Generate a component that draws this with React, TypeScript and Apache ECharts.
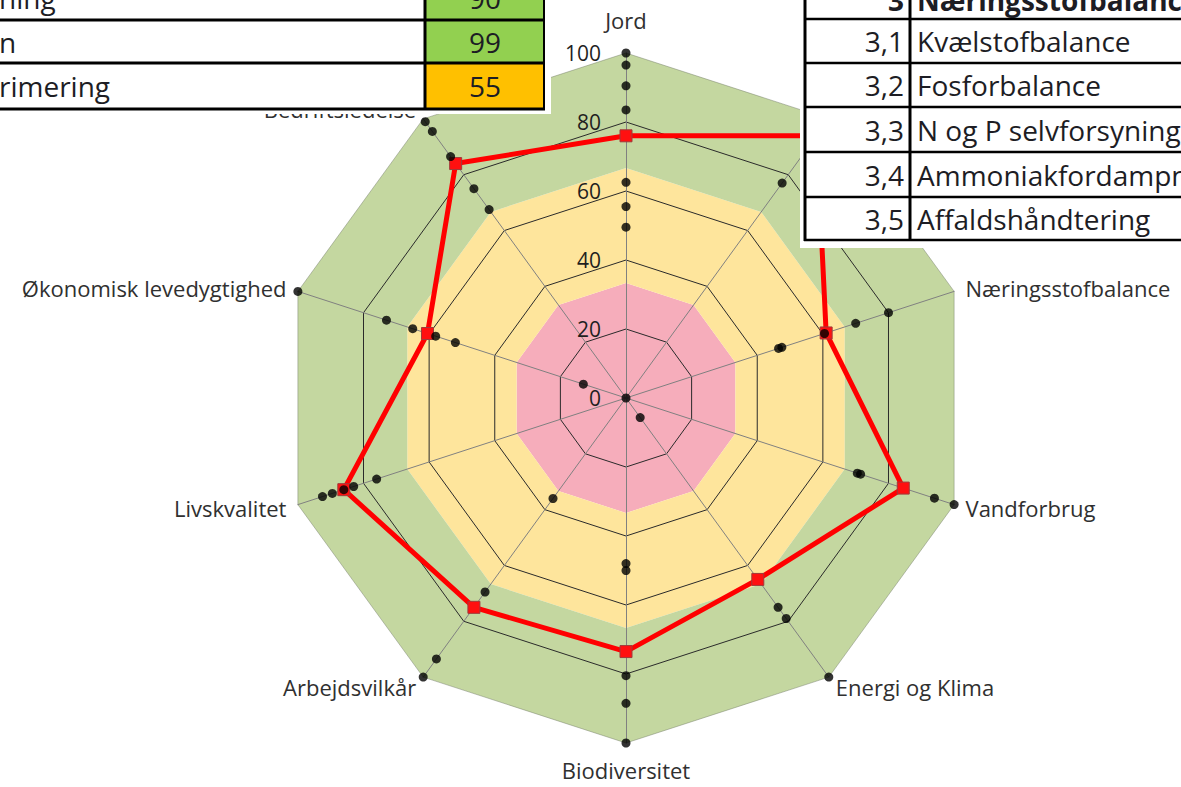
import React, { useEffect, useRef } from 'react';
import * as echarts from 'echarts';

// ---- data (clockwise from the top) ----
const indicators = [
  'Jord',
  'Dyrehold',
  'Næringsstofbalance',
  'Vandforbrug',
  'Energi og Klima',
  'Biodiversitet',
  'Arbejdsvilkår',
  'Livskvalitet',
  'Økonomisk levedygtighed',
  'Bedriftsledelse',
];
const themeScores = [76, 94, 61, 84.5, 65, 73.5, 75, 86, 60.5, 84];

const subJord = [0, 49.5, 55.5, 62.5, 83.5, 90.5, 96.5, 100];
const subDyrehold = [77];
const subNaering = [46.5, 47.5, 60.5, 70, 80];
const subVand = [70.5, 71.5, 94, 100];
const subEnergi = [7, 75, 79, 100];
const subBio = [48, 50, 80.5, 88.5, 100];
const subArbejd = [36, 69.5, 93.5, 100];
const subLivs = [76, 83, 86, 89.5, 92.5];
const subOekonomi = [13, 52, 58, 65, 73, 100];
const subLedelse = [67.5, 75, 86.5, 95.5, 99];
const subScores = [
  subJord, subDyrehold, subNaering, subVand, subEnergi,
  subBio, subArbejd, subLivs, subOekonomi, subLedelse,
];

const bandColors = ['#f6adbb', '#fee59c', '#c4d7a0'];

const leftTableLabels = ['ning', 'n', 'rimering'];
const leftTableValues = ['90', '99', '55'];
const leftTableColors = ['#92d050', '#92d050', '#ffc000'];

const rightTableHeaderNo = '3';
const rightTableHeader = 'Næringsstofbalance';
const rightTableNumbers = ['3,1', '3,2', '3,3', '3,4', '3,5'];
const rightTableNames = [
  'Kvælstofbalance',
  'Fosforbalance',
  'N og P selvforsyning',
  'Ammoniakfordampning',
  'Affaldshåndtering',
];

const FONT = "'Open Sans', 'Noto Sans', sans-serif";

function buildTables() {
  const els: any[] = [];
  const Z = 100;
  const ink = '#1d1d24';
  // left table
  els.push({ type: 'rect', z: Z, shape: { x: 0, y: 0, width: 551, height: 114 }, style: { fill: '#ffffff' } });
  const lRows = [[-24, 20], [20, 63], [63, 109]];
  lRows.forEach((r, i) => {
    els.push({ type: 'rect', z: Z, shape: { x: 425, y: r[0], width: 119, height: r[1] - r[0] }, style: { fill: leftTableColors[i] } });
    els.push({
      type: 'text', z: Z + 2, x: 485, y: (r[0] + r[1]) / 2,
      style: { text: leftTableValues[i], fill: ink, font: `28px ${FONT}`, align: 'center', verticalAlign: 'middle' },
    });
    els.push({
      type: 'text', z: Z + 2, x: -1, y: (r[0] + r[1]) / 2,
      style: { text: leftTableLabels[i], fill: ink, font: `28px ${FONT}`, align: 'left', verticalAlign: 'middle' },
    });
  });
  [20, 63, 109].forEach((y) => {
    els.push({ type: 'line', z: Z + 1, shape: { x1: 0, y1: y, x2: 545, y2: y }, style: { stroke: '#000', lineWidth: 3 } });
  });
  els.push({ type: 'line', z: Z + 1, shape: { x1: 425, y1: 0, x2: 425, y2: 110 }, style: { stroke: '#000', lineWidth: 3 } });
  els.push({ type: 'line', z: Z + 1, shape: { x1: 544, y1: 0, x2: 544, y2: 110 }, style: { stroke: '#000', lineWidth: 2 } });

  // right table
  els.push({ type: 'rect', z: Z, shape: { x: 800, y: 0, width: 381, height: 248 }, style: { fill: '#ffffff' } });
  const rLines = [19, 63, 107, 152, 197, 240];
  rLines.forEach((y) => {
    els.push({ type: 'line', z: Z + 1, shape: { x1: 804, y1: y, x2: 1181, y2: y }, style: { stroke: '#000', lineWidth: 2.5 } });
  });
  els.push({ type: 'line', z: Z + 1, shape: { x1: 805, y1: 0, x2: 805, y2: 241 }, style: { stroke: '#000', lineWidth: 3 } });
  els.push({ type: 'line', z: Z + 1, shape: { x1: 910, y1: 0, x2: 910, y2: 241 }, style: { stroke: '#000', lineWidth: 3 } });
  els.push({
    type: 'text', z: Z + 2, x: 904, y: 0,
    style: { text: rightTableHeaderNo, fill: ink, font: `bold 28px ${FONT}`, align: 'right', verticalAlign: 'middle' },
  });
  els.push({
    type: 'text', z: Z + 2, x: 917, y: 0,
    style: { text: rightTableHeader, fill: ink, font: `bold 28px ${FONT}`, align: 'left', verticalAlign: 'middle' },
  });
  rightTableNumbers.forEach((n, i) => {
    const cy = (rLines[i] + rLines[i + 1]) / 2;
    els.push({
      type: 'text', z: Z + 2, x: 904, y: cy,
      style: { text: n, fill: ink, font: `28px ${FONT}`, align: 'right', verticalAlign: 'middle' },
    });
    els.push({
      type: 'text', z: Z + 2, x: 917, y: cy,
      style: { text: rightTableNames[i], fill: ink, font: `28px ${FONT}`, align: 'left', verticalAlign: 'middle' },
    });
  });
  return els;
}

export default function App() {
  const ref = useRef<HTMLDivElement>(null);

  useEffect(() => {
    if (!ref.current) return;
    const chart = echarts.init(ref.current, null, { renderer: 'svg' });
    const cx = 626;
    const cy = 398;
    const R = 345;
    const n = indicators.length;
    const step = 360 / n;

    // ECharts radar places indicators counter-clockwise; reorder so they run clockwise.
    const order = [0, ...Array.from({ length: n - 1 }, (_, k) => n - 1 - k)];

    const gridIndicators = order.map((i) => {
      const ind: any = { name: indicators[i], min: 0, max: 100 };
      if (i === 0) {
        ind.axisLabel = {
          show: true,
          color: '#1f1f1f',
          fontSize: 21,
          fontFamily: FONT,
          margin: 25,
          align: 'right',
        };
        ind.nameGap = 22;
      }
      if (i === 5) ind.nameGap = 16;
      return ind;
    });
    const radarScores = order.map((i) => themeScores[i]);

    const dots = subScores.flatMap((arr, i) => arr.map((v) => [v, i * step]));

    const option: any = {
      animation: false,
      textStyle: { fontFamily: FONT },
      radar: [
        {
          center: [cx, cy],
          radius: R,
          startAngle: 90,
          shape: 'polygon',
          splitNumber: 3,
          z: 0,
          indicator: order.map((i) => ({ name: indicators[i], min: 0, max: 100 })),
          axisName: { show: false },
          axisLine: { show: false },
          axisTick: { show: false },
          axisLabel: { show: false },
          splitLine: { show: false },
          splitArea: { show: true, areaStyle: { color: bandColors } },
        },
        {
          center: [cx, cy],
          radius: R,
          startAngle: 90,
          shape: 'polygon',
          splitNumber: 5,
          z: 1,
          indicator: gridIndicators,
          nameGap: 12,
          axisName: { color: '#303030', fontSize: 22, fontFamily: FONT },
          axisLine: { show: true, lineStyle: { color: '#808080', width: 1 } },
          axisTick: { show: false },
          axisLabel: { show: false },
          splitLine: {
            show: true,
            lineStyle: {
              color: ['#2a2a2a', '#2a2a2a', '#2a2a2a', '#2a2a2a', '#2a2a2a', 'rgba(110,120,100,0.45)'],
              width: 1,
            },
          },
          splitArea: { show: false },
        },
      ],
      polar: { center: [cx, cy], radius: R },
      angleAxis: { type: 'value', min: 0, max: 360, startAngle: 90, clockwise: true, show: false },
      radiusAxis: { type: 'value', min: 0, max: 100, show: false },
      series: [
        {
          type: 'radar',
          radarIndex: 1,
          z: 3,
          symbol: 'rect',
          symbolSize: 12,
          lineStyle: { color: '#ff0000', width: 5 },
          itemStyle: { color: '#ff1010', borderColor: '#a03a3a', borderWidth: 1 },
          data: [{ value: radarScores, name: 'Score' }],
        },
        {
          type: 'scatter',
          coordinateSystem: 'polar',
          z: 4,
          symbol: 'circle',
          symbolSize: 9,
          itemStyle: { color: '#000000' },
          data: dots,
        },
      ],
      graphic: { elements: buildTables() },
    };
    chart.setOption(option);
    return () => chart.dispose();
  }, []);

  return (
    <div
      ref={ref}
      style={{ position: 'absolute', left: 0, top: 0, width: 1181, height: 787, background: '#ffffff' }}
    />
  );
}
